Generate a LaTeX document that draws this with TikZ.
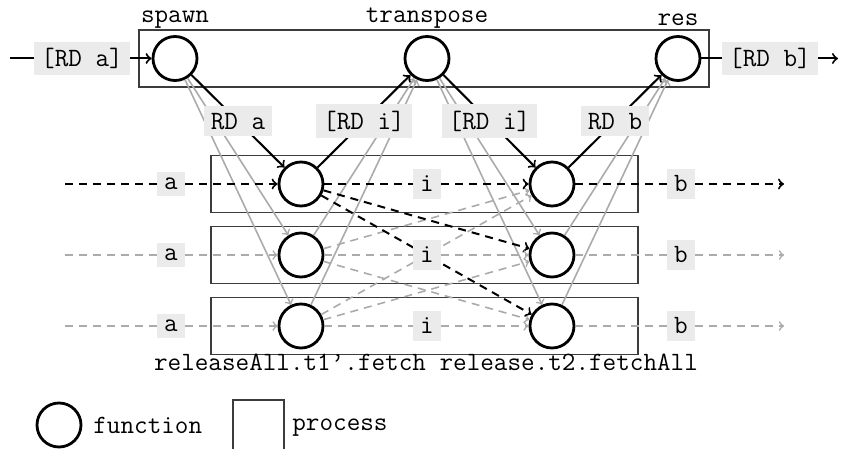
\documentclass[tikz,border=0pt]{standalone}
\usepackage{fontspec}
\definecolor{lgray}{HTML}{ABABAB}
\definecolor{lblgray}{HTML}{EBEBEB}
\definecolor{boxgray}{HTML}{3C3C3C}
\begin{document}
\begin{tikzpicture}[x=0.5pt,y=-0.5pt,
  font=\ttfamily\fontsize{13.2}{15}\selectfont,
  fn/.style={circle, draw, line width=1.4pt, minimum size=22pt, inner sep=0pt, fill=white},
  lbl/.style={fill=lblgray, inner xsep=3.6pt, inner ysep=3.3pt},
  txt/.style={inner sep=0pt},
  proc/.style={draw=boxgray, line width=0.6pt},
  link/.style={->, line width=1pt},
  glink/.style={->, draw=lgray, line width=0.8pt},
  flow/.style={dash pattern=on 4pt off 3pt, line width=1pt},
  gflow/.style={flow, draw=lgray, line width=0.8pt}]
\useasboundingbox (0,0) rectangle (841,449);

% process boxes
\draw[proc, fill=white] (139,30) rectangle (709,87);
\foreach \y in {184,255,326}
  \draw[proc] (211,\y-28.5) rectangle (638,\y+28.5);

% functions of the top process
\node[fn] (sp) at (175,58.5) {};
\node[fn] (tr) at (427,58.5) {};
\node[fn] (rs) at (678,58.5) {};
\node[txt, anchor=base] (tsp) at (175,23) {spawn};
\node[txt, anchor=base] (ttr) at (427,23) {transpose};
\node[txt, anchor=base] (trs) at (678,26) {res};

% functions of the worker processes
\foreach \k/\y in {1/184,2/255,3/326} {
  \node[fn] (L\k) at (301,\y) {};
  \node[fn] (R\k) at (552,\y) {};
}

% spawn / gather links of the other workers
\draw[glink] (sp) -- (L2);
\draw[glink] (sp) -- (L3);
\draw[glink] (L2) -- (tr);
\draw[glink] (L3) -- (tr);
\draw[glink] (tr) -- (R2);
\draw[glink] (tr) -- (R3);
\draw[glink] (R2) -- (rs);
\draw[glink] (R3) -- (rs);

% exchange between workers
\draw[gflow, ->] (L2) -- (R1);
\draw[gflow, ->] (L2) -- (R3);
\draw[gflow, ->] (L3) -- (R1);
\draw[gflow, ->] (L3) -- (R2);
\draw[flow, ->] (L1) -- (R2);
\draw[flow, ->] (L1) -- (R3);

% links of the first worker
\draw[link] (sp) -- node[lbl] {RD a} (L1);
\draw[link] (L1) -- node[lbl] {[RD i]} (tr);
\draw[link] (tr) -- node[lbl] {[RD i]} (R1);
\draw[link] (R1) -- node[lbl] {RD b} (rs);

% input and output of the top process
\coordinate (tin) at (10,58.5);
\coordinate (tout) at (838,58.5);
\node[lbl] (ina) at (82,58.5) {[RD a]};
\node[lbl] (outb) at (770,58.5) {[RD b]};
\draw[line width=1pt] (tin) -- (ina);
\draw[link] (ina) -- (sp);
\draw[line width=1pt] (rs) -- (outb);
\draw[link] (outb) -- (tout);

% data flowing through each worker
\foreach \k/\y/\st in {1/184/flow,2/255/gflow,3/326/gflow} {
  \coordinate (s\k) at (65,\y);
  \coordinate (e\k) at (784,\y);
  \node[lbl] (a\k) at (171,\y) {a};
  \node[lbl] (i\k) at (427,\y) {i};
  \node[lbl] (b\k) at (681,\y) {b};
  \draw[\st] (s\k) -- (a\k);
  \draw[\st, ->] (a\k) -- (L\k);
  \draw[\st] (L\k) -- (i\k);
  \draw[\st, ->] (i\k) -- (R\k);
  \draw[\st] (R\k) -- (b\k);
  \draw[\st, ->] (b\k) -- (e\k);
}

\node[txt, anchor=base] (names) at (426,370) {releaseAll.t1’.fetch release.t2.fetchAll};

% legend
\node[fn] (lfn) at (59,425) {};
\node[txt, anchor=base west] (lfnt) at (93,433) {function};
\draw[proc] (233,449) -- (233,400) -- (284,400) -- (284,449);
\node[txt, anchor=base west] (lpt) at (292,430) {process};
\end{tikzpicture}
\end{document}
